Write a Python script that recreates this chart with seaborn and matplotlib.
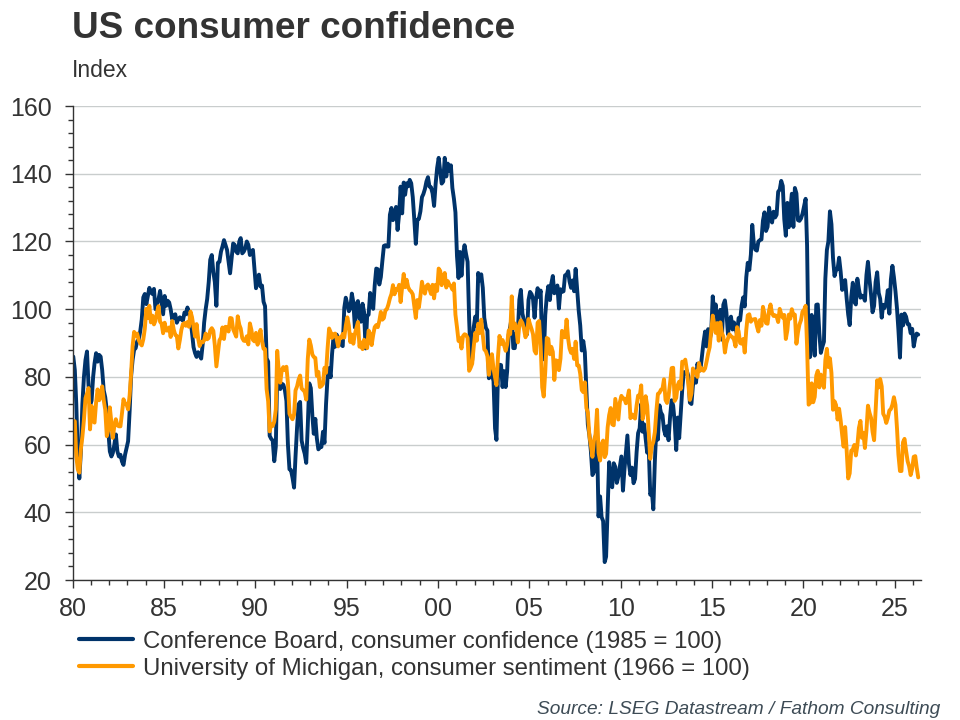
import pandas as pd
import numpy as np
import matplotlib
matplotlib.use("Agg")
import matplotlib.pyplot as plt
import matplotlib.dates as mdates
from matplotlib.ticker import MultipleLocator
import seaborn as sns

# Conference Board, consumer confidence (1985 = 100), monthly, one row per year
cb_1980s = [
    86.0, 82.0, 72.0, 56.0, 50.0, 58.0, 72.0, 80.0, 85.0, 87.5, 77.5, 71.5,
    73.0, 80.0, 84.0, 87.0, 84.5, 86.5, 86.0, 82.0, 76.0, 74.0, 70.0, 64.0,
    58.0, 56.5, 57.5, 60.0, 63.0, 58.0, 56.5, 57.0, 55.0, 54.0, 57.0, 59.0,
    61.0, 70.0, 80.0, 85.0, 88.0, 88.5, 90.5, 91.0, 93.5, 97.0, 103.5, 104.5,
    101.5, 104.0, 106.3, 105.0, 104.5, 106.0, 100.0, 101.5, 103.0, 105.4, 102.0, 98.5,
    103.9, 101.0, 102.5, 102.0, 100.0, 97.0, 98.0, 98.5, 96.0, 97.0, 97.6, 97.0,
    96.6, 99.0, 98.5, 100.5, 99.0, 97.0, 93.2, 88.8, 87.0, 85.9, 87.3, 86.5,
    85.4, 89.8, 96.0, 100.0, 103.0, 108.0, 114.6, 116.0, 111.0, 108.0, 101.0, 113.7,
    114.0, 117.0, 118.5, 120.4, 119.0, 117.5, 114.0, 110.6, 115.0, 119.4, 119.0, 117.0,
    116.5, 120.0, 121.0, 116.5, 117.0, 118.0, 120.0, 119.0, 116.0, 117.0, 117.5, 112.0,
]
cb_1990s = [
    106.2, 108.0, 110.2, 106.7, 107.0, 102.2, 100.9, 85.5, 84.5, 62.6, 61.7, 61.2,
    55.1, 59.4, 81.1, 79.4, 76.4, 78.0, 77.7, 76.1, 72.9, 60.1, 52.7, 52.5,
    50.2, 47.3, 56.5, 65.1, 71.9, 72.6, 61.2, 59.0, 57.3, 54.6, 65.6, 78.1,
    76.7, 68.5, 63.2, 67.6, 61.9, 58.6, 59.2, 59.3, 63.8, 60.5, 71.9, 79.8,
    82.6, 79.9, 86.7, 92.1, 88.9, 92.5, 91.3, 90.4, 89.5, 89.1, 100.4, 103.4,
    101.4, 99.4, 100.2, 104.6, 102.0, 94.6, 101.4, 102.4, 97.3, 96.3, 101.6, 99.2,
    88.4, 98.0, 98.4, 104.8, 103.5, 100.1, 107.0, 112.0, 111.8, 107.3, 109.5, 114.2,
    118.7, 118.9, 118.5, 118.5, 127.9, 129.9, 126.3, 127.6, 130.2, 123.4, 128.1, 136.2,
    128.3, 137.4, 133.8, 137.2, 136.3, 138.2, 137.2, 133.1, 126.4, 119.3, 126.4, 126.7,
    128.9, 133.1, 134.0, 135.5, 137.7, 139.0, 136.2, 136.0, 134.2, 130.5, 137.0, 141.7,
]
cb_2000s = [
    144.7, 140.8, 137.1, 137.7, 144.7, 139.2, 143.0, 140.8, 142.5, 135.8, 132.6, 128.6,
    115.7, 109.2, 116.9, 109.9, 116.1, 118.9, 116.3, 114.0, 97.0, 85.3, 84.9, 94.6,
    97.8, 95.0, 110.7, 108.5, 110.3, 106.3, 97.4, 94.5, 93.7, 79.6, 84.9, 80.7,
    78.8, 64.8, 61.4, 81.0, 83.6, 83.5, 77.0, 81.7, 77.0, 81.7, 92.5, 94.8,
    97.7, 88.5, 88.5, 93.0, 93.1, 102.8, 105.7, 98.7, 96.7, 92.9, 92.6, 102.7,
    105.1, 104.4, 103.0, 97.5, 103.1, 106.2, 103.6, 105.5, 87.5, 85.2, 98.3, 103.8,
    106.8, 102.7, 107.5, 109.8, 104.7, 105.4, 107.0, 100.2, 105.9, 105.1, 105.3, 110.0,
    110.2, 111.2, 108.2, 106.3, 108.5, 105.3, 111.9, 105.6, 99.5, 95.2, 87.8, 90.6,
    87.3, 76.4, 65.9, 62.8, 58.1, 51.0, 51.9, 58.5, 61.4, 38.8, 44.7, 38.6,
    37.4, 25.3, 26.9, 40.8, 54.8, 49.3, 47.4, 54.5, 53.4, 48.7, 50.6, 53.6,
]
cb_2010s = [
    56.5, 46.4, 52.3, 57.7, 62.7, 54.3, 51.0, 53.2, 48.6, 49.9, 57.8, 63.4,
    64.8, 72.0, 63.8, 66.0, 61.7, 57.6, 59.2, 45.2, 46.4, 40.9, 55.2, 64.8,
    61.5, 71.6, 69.5, 68.7, 64.4, 62.7, 65.4, 61.3, 68.4, 73.1, 71.5, 66.7,
    58.4, 68.0, 61.9, 69.0, 76.2, 81.4, 81.0, 81.8, 80.2, 72.4, 72.0, 77.5,
    79.4, 78.3, 83.9, 81.7, 82.2, 86.4, 90.3, 93.4, 89.0, 94.1, 91.0, 93.1,
    103.8, 98.8, 101.4, 94.3, 94.6, 99.8, 91.0, 101.3, 102.6, 99.1, 92.6, 96.3,
    97.8, 94.0, 96.1, 94.2, 92.6, 97.4, 96.7, 101.1, 103.5, 100.8, 109.4, 113.7,
    111.6, 116.1, 124.9, 119.4, 117.6, 117.3, 120.0, 120.4, 120.6, 126.2, 128.6, 123.1,
    124.3, 130.0, 127.0, 125.6, 128.8, 127.1, 127.9, 134.7, 135.3, 137.9, 136.4, 126.6,
    121.7, 131.4, 124.2, 129.2, 134.1, 124.3, 135.8, 134.2, 126.3, 126.1, 126.8, 128.2,
]
cb_2020s = [
    130.4, 132.6, 118.8, 85.7, 85.9, 98.3, 91.7, 86.3, 101.3, 101.4, 92.9, 87.1,
    88.9, 90.4, 109.0, 117.5, 120.0, 128.9, 125.1, 115.2, 109.8, 111.6, 111.9, 115.2,
    111.1, 105.7, 107.6, 108.6, 103.2, 98.4, 95.3, 103.6, 107.8, 102.2, 101.4, 109.0,
    106.0, 103.4, 104.0, 103.7, 102.5, 110.1, 114.0, 108.7, 104.3, 99.1, 101.0, 108.0,
    110.9, 104.8, 103.1, 97.5, 101.3, 100.4, 101.9, 105.6, 98.7, 108.7, 112.8, 109.5,
    105.3, 100.1, 93.9, 85.7, 98.4, 95.2, 98.7, 97.8, 95.6, 95.5, 92.9, 94.2,
    89.0, 91.5, 92.8, 92.5,
]

# University of Michigan, consumer sentiment (1966 = 100), monthly, one row per year
um_1980s = [
    67.0, 66.9, 56.5, 52.7, 51.7, 58.7, 62.3, 67.3, 73.7, 75.0, 76.7, 64.5,
    71.4, 66.9, 66.5, 72.4, 76.3, 73.1, 74.1, 77.2, 73.1, 70.3, 62.5, 64.3,
    71.0, 66.5, 62.0, 65.5, 67.5, 65.7, 65.4, 65.4, 69.3, 73.4, 72.1, 71.9,
    70.4, 74.6, 80.8, 89.1, 93.3, 92.2, 92.8, 90.9, 89.9, 89.3, 91.1, 94.2,
    100.1, 97.4, 101.0, 96.1, 98.1, 95.5, 96.6, 99.1, 100.9, 96.3, 95.7, 92.9,
    96.0, 93.7, 93.7, 94.6, 91.8, 96.5, 94.0, 92.4, 92.1, 88.4, 90.9, 93.9,
    95.6, 95.9, 95.1, 96.2, 94.8, 99.3, 97.7, 94.9, 91.9, 95.6, 91.4, 89.1,
    90.4, 90.2, 90.8, 92.8, 91.1, 91.5, 93.7, 94.4, 93.6, 89.3, 83.1, 86.8,
    90.8, 91.6, 94.6, 91.2, 94.8, 94.7, 93.4, 97.4, 97.3, 94.1, 93.0, 91.9,
    97.9, 95.4, 94.3, 91.5, 90.7, 90.6, 92.0, 89.6, 95.8, 93.9, 90.9, 90.5,
]
um_1990s = [
    93.0, 89.5, 91.3, 93.9, 90.6, 88.3, 88.2, 76.4, 72.8, 63.9, 66.0, 65.5,
    66.8, 70.4, 87.7, 81.8, 78.3, 82.1, 82.9, 82.0, 83.0, 78.3, 69.1, 68.2,
    67.5, 68.8, 76.0, 77.2, 79.2, 80.4, 76.6, 76.1, 75.6, 73.3, 85.3, 91.0,
    89.3, 86.6, 85.9, 85.6, 80.3, 81.5, 77.0, 77.3, 77.9, 82.7, 81.2, 88.2,
    94.3, 93.2, 91.5, 92.6, 92.8, 91.2, 89.0, 91.7, 91.5, 92.7, 91.6, 95.1,
    97.6, 95.1, 90.3, 92.5, 89.8, 92.7, 94.4, 96.2, 88.9, 90.2, 88.2, 91.0,
    89.3, 88.5, 93.7, 92.7, 89.4, 92.4, 94.7, 95.3, 94.7, 96.5, 99.2, 96.9,
    97.4, 99.7, 100.0, 101.4, 103.2, 104.5, 107.1, 104.4, 106.0, 105.6, 107.2, 102.1,
    106.6, 110.4, 106.5, 108.7, 106.5, 105.6, 105.2, 104.4, 100.9, 97.4, 102.7, 100.5,
    103.9, 108.1, 105.7, 104.6, 106.8, 107.3, 106.0, 104.5, 107.2, 103.2, 107.2, 105.4,
]
um_2000s = [
    112.0, 111.3, 107.1, 109.2, 110.7, 106.4, 108.3, 107.3, 106.8, 105.8, 107.6, 98.4,
    94.7, 90.6, 91.5, 88.4, 92.0, 92.6, 92.4, 91.5, 81.8, 82.7, 83.9, 88.8,
    93.0, 90.7, 95.7, 93.0, 96.9, 92.4, 88.1, 87.6, 86.1, 80.6, 84.2, 86.7,
    82.4, 79.9, 77.6, 86.0, 92.1, 89.7, 90.9, 89.3, 87.7, 89.6, 93.7, 92.6,
    103.8, 94.4, 95.8, 94.2, 90.2, 95.6, 96.7, 95.9, 94.2, 91.7, 92.8, 97.1,
    95.5, 94.1, 92.6, 87.7, 86.9, 96.0, 96.5, 89.1, 76.9, 74.2, 81.6, 91.5,
    91.2, 86.7, 88.9, 87.4, 79.1, 84.9, 84.7, 82.0, 85.4, 93.6, 92.1, 91.7,
    96.9, 91.3, 88.4, 87.1, 88.3, 85.3, 90.4, 83.4, 83.4, 80.9, 76.1, 75.5,
    78.4, 70.8, 69.5, 62.6, 59.8, 56.4, 61.2, 63.0, 70.3, 57.6, 55.3, 60.1,
    61.2, 56.3, 57.3, 65.1, 68.7, 70.8, 66.0, 65.7, 73.5, 70.6, 67.4, 72.5,
]
um_2010s = [
    74.4, 73.6, 73.6, 72.2, 73.6, 76.0, 67.8, 68.9, 68.2, 67.7, 71.6, 74.5,
    74.2, 77.5, 67.5, 69.8, 74.3, 71.5, 63.7, 55.8, 59.5, 60.8, 63.7, 69.9,
    75.0, 75.3, 76.2, 76.4, 79.3, 73.2, 72.3, 74.3, 78.3, 82.6, 82.7, 72.9,
    73.8, 77.6, 78.6, 76.4, 84.5, 84.1, 85.1, 82.1, 77.5, 73.2, 75.1, 82.5,
    81.2, 81.6, 80.0, 84.1, 81.9, 82.5, 81.8, 82.5, 84.6, 86.9, 88.8, 93.6,
    98.1, 95.4, 93.0, 95.9, 90.7, 96.1, 93.1, 91.9, 87.2, 90.0, 91.3, 92.6,
    92.0, 91.7, 91.0, 89.0, 94.7, 93.5, 90.0, 89.8, 91.2, 87.2, 93.8, 98.2,
    98.5, 96.3, 96.9, 97.0, 97.1, 95.0, 93.4, 96.8, 95.1, 100.7, 98.5, 95.9,
    95.7, 99.7, 101.4, 98.8, 98.0, 98.2, 97.9, 96.2, 100.1, 98.6, 97.5, 98.3,
    91.2, 93.8, 98.4, 97.2, 100.0, 98.2, 98.4, 89.8, 93.2, 95.5, 96.8, 99.3,
]
um_2020s = [
    99.8, 101.0, 89.1, 71.8, 72.3, 78.1, 72.5, 74.1, 80.4, 81.8, 76.9, 80.7,
    79.0, 76.8, 84.9, 88.3, 82.9, 85.5, 81.2, 70.3, 72.8, 71.7, 67.4, 70.6,
    67.2, 62.8, 59.4, 65.2, 58.4, 50.0, 51.5, 58.2, 58.6, 59.9, 56.8, 59.7,
    64.9, 67.0, 62.0, 63.5, 59.0, 64.2, 71.5, 69.4, 67.9, 63.8, 61.3, 69.7,
    79.0, 76.9, 79.4, 77.2, 69.1, 68.2, 66.4, 67.9, 70.1, 70.5, 71.8, 74.0,
    71.7, 64.7, 57.0, 52.2, 52.2, 60.7, 61.7, 58.2, 55.1, 53.6, 51.0, 52.9,
    56.4, 56.6, 53.3, 50.3,
]

cb_label = "Conference Board, consumer confidence (1985 = 100)"
um_label = "University of Michigan, consumer sentiment (1966 = 100)"
navy = "#00336a"
orange = "#ff9900"
text_col = "#333333"

cb_values = cb_1980s + cb_1990s + cb_2000s + cb_2010s + cb_2020s
um_values = um_1980s + um_1990s + um_2000s + um_2010s + um_2020s

# monthly observations, placed mid-month
dates = pd.date_range("1980-01-01", periods=len(cb_values), freq="MS") + pd.Timedelta(days=14)

df = pd.DataFrame({"date": dates, cb_label: cb_values, um_label: um_values})
df_long = df.melt(id_vars="date", var_name="series", value_name="value")

sns.set_theme(style="ticks")
plt.rcParams["font.family"] = ["Liberation Sans", "DejaVu Sans"]

fig = plt.figure(figsize=(9.6, 7.2), dpi=100)
ax = fig.add_axes([0.0756, 0.1944, 0.8838, 0.6583])

sns.lineplot(data=df_long, x="date", y="value", hue="series",
             hue_order=[cb_label, um_label], palette=[navy, orange],
             linewidth=2.8, ax=ax)

# axes limits and ticks
ax.set_xlim(pd.Timestamp("1980-01-01"), pd.Timestamp("2026-06-10"))
ax.set_ylim(20, 160)
ax.xaxis.set_major_locator(mdates.YearLocator(5))
ax.xaxis.set_minor_locator(mdates.YearLocator(1))
ax.xaxis.set_major_formatter(mdates.DateFormatter("%y"))
ax.yaxis.set_major_locator(MultipleLocator(20))
ax.yaxis.set_minor_locator(MultipleLocator(4))
ax.set_xlabel("")
ax.set_ylabel("")

ax.tick_params(axis="both", which="major", direction="out", length=5.5, width=1,
               color="#333333", labelsize=18, labelcolor=text_col)
ax.tick_params(axis="both", which="minor", direction="out", length=3.5, width=1,
               color="#333333")
ax.tick_params(axis="y", which="major", pad=9.5)
ax.tick_params(axis="x", which="major", pad=6.5)

ax.yaxis.grid(True, color="#c9cdcd", linewidth=1)
ax.set_axisbelow(True)
sns.despine(ax=ax)
for side in ["left", "bottom"]:
    ax.spines[side].set_color("#333333")
    ax.spines[side].set_linewidth(1)

# legend below the plot
sns.move_legend(ax, "upper left", bbox_to_anchor=(0.0826, 0.124),
                bbox_transform=fig.transFigure, frameon=False, title=None,
                fontsize=17.3, handlelength=2.25, handletextpad=0.39,
                labelspacing=0.2, borderpad=0, borderaxespad=0)
leg = ax.get_legend()
for line in leg.get_lines():
    line.set_linewidth(3.0)
for t in leg.get_texts():
    t.set_color(text_col)

# titles and source
fig.text(72 / 960, 1 - 38 / 720, "US consumer confidence", fontsize=26.6,
         fontweight="bold", color=text_col, ha="left", va="baseline")
fig.text(72 / 960, 1 - 77 / 720, "Index", fontsize=16.5, color=text_col,
         ha="left", va="baseline")
fig.text(940 / 960, 1 - 709 / 720, "Source: LSEG Datastream / Fathom Consulting",
         fontsize=13.75, style="italic", color="#3d4b55", ha="right", va="center")

fig.savefig("out.png", dpi=100)
plt.close(fig)
